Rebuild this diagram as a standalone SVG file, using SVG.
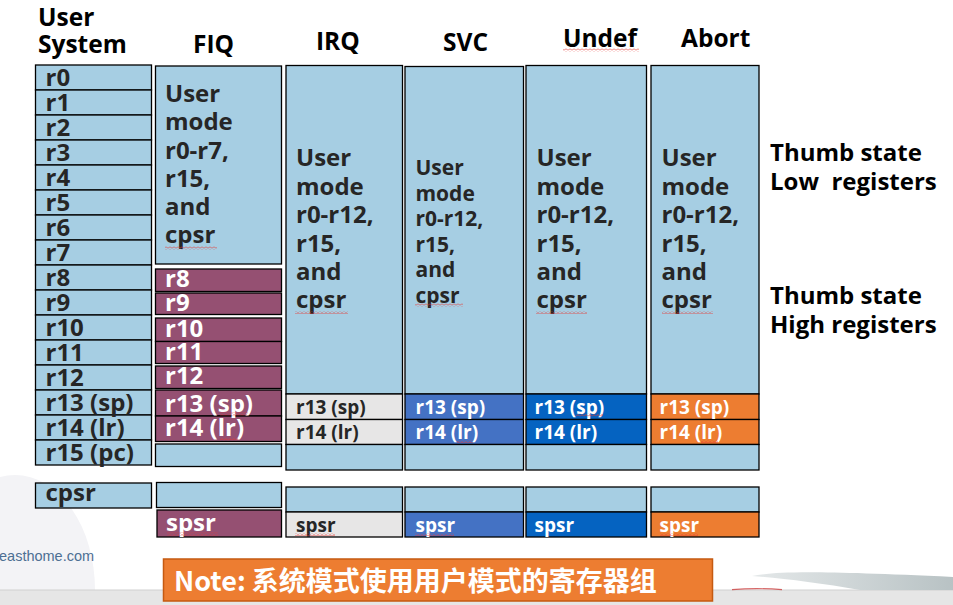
<svg xmlns="http://www.w3.org/2000/svg" width="953" height="605" viewBox="0 0 953 605">
<defs>
<style>
.c{fill:#A6CEE3;stroke:#000;stroke-width:1.3}
.p{fill:#955072;stroke:#000;stroke-width:1.3}
.g{fill:#E7E6E6;stroke:#000;stroke-width:1.3}
.s{fill:#4472C4;stroke:#000;stroke-width:1.3}
.u{fill:#0563C1;stroke:#000;stroke-width:1.3}
.a{fill:#ED7D31;stroke:#000;stroke-width:1.3}
text{font-family:"Open Sans","Noto Sans","DejaVu Sans",sans-serif;font-weight:bold}
.h{font-size:24.5px;fill:#000}
.r{font-size:24px;fill:#262626}
.rw{font-size:24px;fill:#fff}
.b{font-size:24px;fill:#262626}
.bs{font-size:21px;fill:#262626}
.m{font-size:19px;fill:#262626}
.mw{font-size:19px;fill:#fff}
.t{font-size:24px;fill:#000}
</style>
<pattern id="sq" width="4" height="3" patternUnits="userSpaceOnUse">
<path d="M0 2.5 L2 0.5 L4 2.5" fill="none" stroke="#E53935" stroke-width="0.8"/>
</pattern>
<linearGradient id="sw" x1="0" y1="0" x2="1" y2="0">
<stop offset="0" stop-color="#E4E8E9"/>
<stop offset="1" stop-color="#B8C2C4"/>
</linearGradient>
</defs>
<rect width="953" height="605" fill="#fff"/>
<g id="background">
<ellipse cx="15" cy="590" rx="80" ry="115" fill="#F3F3F6"/>
<rect x="0" y="590" width="953" height="15" fill="#E6E6E6"/>
<line x1="0" y1="590" x2="953" y2="590" stroke="#D0D0D0" stroke-width="1"/>
<path d="M752 576 C780 571 820 571 953 577 L953 590 L860 590 C820 583 780 578 752 576 Z" fill="url(#sw)"/>
<path d="M732 589.6 C748 588.4 766 588.4 782 589.6" fill="none" stroke="#C62828" stroke-width="1.2" opacity="0.7"/>
<text x="-1" y="561" style="font-family:'Liberation Sans',Arial,sans-serif;font-weight:normal;font-size:14.5px;fill:#4D6F93">easthome.com</text>
</g>

<g id="headers">
<text class="h" x="38" y="26">User</text>
<text class="h" x="38" y="53">System</text>
<text class="h" x="193" y="53">FIQ</text>
<text class="h" x="316" y="50">IRQ</text>
<text class="h" x="443" y="51">SVC</text>
<text class="h" x="563" y="47">Undef</text>
<text class="h" x="681" y="47">Abort</text>
</g>

<g id="col-user">
<rect class="c" x="35.5" y="65" width="116" height="25"/>
<rect class="c" x="35.5" y="90" width="116" height="25"/>
<rect class="c" x="35.5" y="115" width="116" height="25"/>
<rect class="c" x="35.5" y="140" width="116" height="25"/>
<rect class="c" x="35.5" y="165" width="116" height="25"/>
<rect class="c" x="35.5" y="190" width="116" height="25"/>
<rect class="c" x="35.5" y="215" width="116" height="25"/>
<rect class="c" x="35.5" y="240" width="116" height="25"/>
<rect class="c" x="35.5" y="265" width="116" height="25"/>
<rect class="c" x="35.5" y="290" width="116" height="25"/>
<rect class="c" x="35.5" y="315" width="116" height="25"/>
<rect class="c" x="35.5" y="340" width="116" height="25"/>
<rect class="c" x="35.5" y="365" width="116" height="25"/>
<rect class="c" x="35.5" y="390" width="116" height="25"/>
<rect class="c" x="35.5" y="415" width="116" height="25"/>
<rect class="c" x="35.5" y="440" width="116" height="25"/>
<rect class="c" x="35.5" y="483" width="116" height="25"/>
<text class="r" x="45.5" y="86">r0</text>
<text class="r" x="45.5" y="111">r1</text>
<text class="r" x="45.5" y="136">r2</text>
<text class="r" x="45.5" y="161">r3</text>
<text class="r" x="45.5" y="186">r4</text>
<text class="r" x="45.5" y="211">r5</text>
<text class="r" x="45.5" y="236">r6</text>
<text class="r" x="45.5" y="261">r7</text>
<text class="r" x="45.5" y="286">r8</text>
<text class="r" x="45.5" y="311">r9</text>
<text class="r" x="45.5" y="336">r10</text>
<text class="r" x="45.5" y="361">r11</text>
<text class="r" x="45.5" y="386">r12</text>
<text class="r" x="45.5" y="411">r13 (sp)</text>
<text class="r" x="45.5" y="436">r14 (lr)</text>
<text class="r" x="45.5" y="461">r15 (pc)</text>
<text class="r" x="45.5" y="501">cpsr</text>
</g>

<g id="col-fiq">
<rect class="c" x="155.5" y="66" width="126" height="198"/>
<rect class="p" x="155.5" y="269" width="126" height="22.5"/>
<rect class="p" x="155.5" y="293" width="126" height="21.5"/>
<rect class="p" x="155.5" y="318" width="126" height="23.5"/>
<rect class="p" x="155.5" y="341.5" width="126" height="22"/>
<rect class="p" x="155.5" y="366" width="126" height="22.5"/>
<rect class="p" x="155.5" y="390" width="126" height="26"/>
<rect class="p" x="155.5" y="416" width="126" height="25.5"/>
<rect class="c" x="155.5" y="444" width="126" height="22.5"/>
<rect class="c" x="156.5" y="482.5" width="125" height="25"/>
<rect class="p" x="157" y="510" width="124.5" height="27"/>
<text class="b" x="165" y="102">User</text>
<text class="b" x="165" y="130">mode</text>
<text class="b" x="165" y="158.5">r0-r7,</text>
<text class="b" x="165" y="187">r15,</text>
<text class="b" x="165" y="215">and</text>
<text class="b" x="165" y="243">cpsr</text>
<text class="rw" x="165" y="287">r8</text>
<text class="rw" x="165" y="311">r9</text>
<text class="rw" x="165" y="337">r10</text>
<text class="rw" x="165" y="360">r11</text>
<text class="rw" x="165" y="384">r12</text>
<text class="rw" x="165" y="411.5">r13 (sp)</text>
<text class="rw" x="165" y="436">r14 (lr)</text>
<text class="rw" x="166" y="531">spsr</text>
</g>

<g id="col-irq">
<rect class="c" x="286" y="65.5" width="116.5" height="328.5"/>
<rect class="g" x="286" y="394" width="116.5" height="25.5"/>
<rect class="g" x="286" y="419.5" width="116.5" height="25"/>
<rect class="c" x="286" y="444.5" width="116.5" height="25.5"/>
<rect class="c" x="286" y="487" width="116.5" height="25"/>
<rect class="g" x="286" y="512" width="116.5" height="25"/>
<text class="b" x="296" y="166">User</text>
<text class="b" x="296" y="194.5">mode</text>
<text class="b" x="296" y="223">r0-r12,</text>
<text class="b" x="296" y="251.5">r15,</text>
<text class="b" x="296" y="280">and</text>
<text class="b" x="296" y="308">cpsr</text>
<text class="m" x="296" y="413.5">r13 (sp)</text>
<text class="m" x="296" y="439">r14 (lr)</text>
<text class="m" x="296" y="532">spsr</text>
</g>

<g id="col-svc">
<rect class="c" x="405" y="66.5" width="118.5" height="327.5"/>
<rect class="s" x="405" y="394" width="118.5" height="25.5"/>
<rect class="s" x="405" y="419.5" width="118.5" height="25"/>
<rect class="c" x="405" y="444.5" width="118.5" height="25.5"/>
<rect class="c" x="405" y="487" width="118.5" height="25"/>
<rect class="s" x="405" y="512" width="118.5" height="25"/>
<text class="bs" x="415.5" y="175">User</text>
<text class="bs" x="415.5" y="200.5">mode</text>
<text class="bs" x="415.5" y="226">r0-r12,</text>
<text class="bs" x="415.5" y="251.5">r15,</text>
<text class="bs" x="415.5" y="277">and</text>
<text class="bs" x="415.5" y="302.5">cpsr</text>
<text class="mw" x="415.5" y="413.5">r13 (sp)</text>
<text class="mw" x="415.5" y="439">r14 (lr)</text>
<text class="mw" x="415.5" y="532">spsr</text>
</g>

<g id="col-undef">
<rect class="c" x="526" y="65.5" width="120.5" height="328.5"/>
<rect class="u" x="526" y="394" width="120.5" height="25.5"/>
<rect class="u" x="526" y="419.5" width="120.5" height="25"/>
<rect class="c" x="526" y="444.5" width="120.5" height="25.5"/>
<rect class="c" x="526" y="487" width="120.5" height="25"/>
<rect class="u" x="526" y="512" width="120.5" height="25"/>
<text class="b" x="536.5" y="166">User</text>
<text class="b" x="536.5" y="194.5">mode</text>
<text class="b" x="536.5" y="223">r0-r12,</text>
<text class="b" x="536.5" y="251.5">r15,</text>
<text class="b" x="536.5" y="280">and</text>
<text class="b" x="536.5" y="308">cpsr</text>
<text class="mw" x="534.5" y="413.5">r13 (sp)</text>
<text class="mw" x="534.5" y="439">r14 (lr)</text>
<text class="mw" x="534.5" y="532">spsr</text>
</g>

<g id="col-abort">
<rect class="c" x="651" y="65.5" width="108" height="328.5"/>
<rect class="a" x="651" y="394" width="108" height="25.5"/>
<rect class="a" x="651" y="419.5" width="108" height="25"/>
<rect class="c" x="651" y="444.5" width="108" height="25.5"/>
<rect class="c" x="651" y="487" width="108" height="25"/>
<rect class="a" x="651" y="512" width="108" height="25"/>
<text class="b" x="661.5" y="166">User</text>
<text class="b" x="661.5" y="194.5">mode</text>
<text class="b" x="661.5" y="223">r0-r12,</text>
<text class="b" x="661.5" y="251.5">r15,</text>
<text class="b" x="661.5" y="280">and</text>
<text class="b" x="661.5" y="308">cpsr</text>
<text class="mw" x="659.5" y="413.5">r13 (sp)</text>
<text class="mw" x="659.5" y="439">r14 (lr)</text>
<text class="mw" x="659.5" y="532">spsr</text>
</g>

<g id="thumb-labels">
<text class="t" x="770" y="161">Thumb state</text>
<text class="t" x="770" y="190" xml:space="preserve">Low  registers</text>
<text class="t" x="770" y="304">Thumb state</text>
<text class="t" x="770" y="333">High registers</text>
</g>

<g id="squiggles" fill="url(#sq)">
<rect x="563" y="48.5" width="76" height="3"/>
<rect x="165" y="246.5" width="52" height="3"/>
<rect x="220" y="412.5" width="28" height="3"/>
<rect x="220" y="437.5" width="18" height="3"/>
<rect x="167" y="532.5" width="51" height="3"/>
<rect x="295" y="311" width="53" height="3"/>
<rect x="415" y="303.5" width="48" height="3"/>
<rect x="536" y="311" width="51" height="3"/>
<rect x="662" y="311" width="51" height="3"/>
<rect x="295" y="533" width="40" height="3"/>
<rect x="457" y="440" width="16" height="3"/>
<rect x="415" y="533" width="39" height="3"/>
<rect x="576" y="413.5" width="27" height="3"/>
<rect x="701" y="440" width="17" height="3"/>
<rect x="660" y="533" width="38" height="3"/>
</g>

<g id="note">
<rect x="163.5" y="559" width="549" height="42" fill="#ED7D31" stroke="#C55A11" stroke-width="1.5"/>
<text x="174" y="591" style="font-family:'Noto Sans CJK SC','Noto Sans',sans-serif;font-weight:bold;font-size:27px;fill:#fff">Note: 系统模式使用用户模式的寄存器组</text>
</g>
</svg>
